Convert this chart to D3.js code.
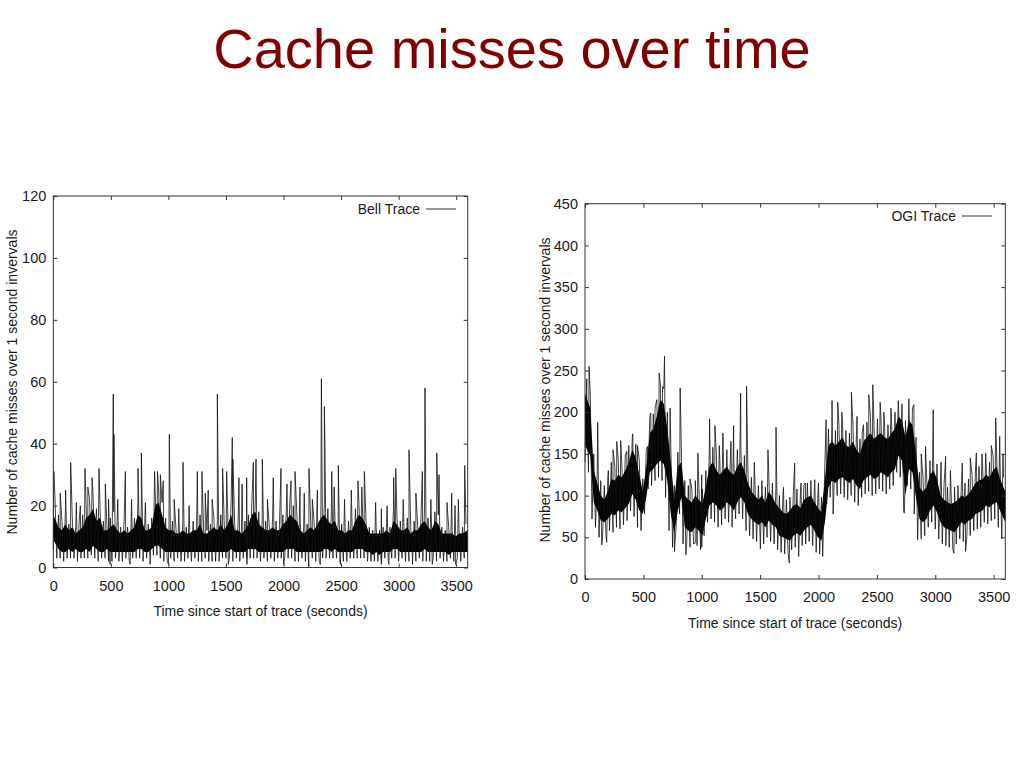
<!DOCTYPE html>
<html>
<head>
<meta charset="utf-8">
<script src="https://cdnjs.cloudflare.com/ajax/libs/d3/7.8.5/d3.min.js"></script>
<style>
  body { margin: 0; background: #fff; }
  svg text { font-family: "Liberation Sans", Arial, sans-serif; }
</style>
</head>
<body>
<svg id="chart" width="1023" height="767"></svg>
<script>
// values, in 30 s bins:
// floor/peak = lowest/highest 1 s sample in the bin, coreLo/coreHi = where most samples sit
const binSeconds = 30

const bellFloor = [
  6,3,3,2,3,3,3,2,3,3,  3,4,3,2,3,3,2,2,3,2,  2,3,2,3,3,3,2,3,3,4,
  4,3,2,2,3,2,3,2,2,3,  2,3,2,2,3,2,2,2,2,3,  3,3,2,3,2,3,3,3,3,3,
  2,3,2,3,2,3,3,3,3,3,  2,2,3,2,2,3,2,2,3,3,  3,3,3,2,2,2,3,3,3,3,
  3,2,2,2,2,2,3,2,3,3,  2,3,2,2,3,2,3,2,2,2,  3,2,3,2,2,3,2,3,2,3]
const bellCoreLo = [
  9,6,5,5,6,5,6,5,5,6,  5,7,6,5,5,6,5,5,5,5,  5,5,5,5,6,6,5,5,6,7,
  7,6,5,5,5,5,5,5,5,5,  5,5,5,5,5,5,5,5,5,5,  5,6,5,5,5,5,6,6,6,5,
  5,5,5,5,5,5,5,6,6,6,  5,5,5,5,5,5,5,5,6,6,  5,6,5,5,5,5,5,6,6,6,
  5,5,4,5,4,5,5,5,6,6,  5,5,5,5,5,5,5,6,5,5,  5,5,5,5,4,5,5,5,5,5]
const bellCoreHi = [
  17,13,12,14,12,13,11,12,13,16,  17,19,15,16,12,12,13,14,12,11,  12,11,12,13,17,16,12,12,13,20,
  21,17,13,12,12,11,11,12,11,11,  12,12,14,11,11,12,13,12,14,12,  14,17,12,12,11,12,14,17,18,14,
  13,12,12,13,12,12,14,15,17,16,  15,12,11,12,13,12,14,16,17,15,  14,15,12,12,11,12,12,15,17,16,
  14,11,11,11,11,11,12,11,15,14,  12,12,13,11,12,12,14,15,13,12,  15,14,11,11,11,11,10,11,11,12]
const bellPeak = [
  22,17,15,18,14,16,13,15,17,20,  22,24,19,21,15,14,16,18,15,13,  15,13,14,16,21,20,15,14,16,24,
  25,21,16,14,15,13,12,14,13,12,  15,14,17,13,12,14,16,15,17,14,  18,22,15,14,13,15,17,21,22,18,
  16,15,14,16,15,14,17,19,21,20,  18,15,13,14,16,15,17,20,21,19,  17,18,15,14,13,15,14,19,21,20,
  17,13,12,13,12,13,14,13,19,17,  15,14,16,13,15,14,17,19,16,15,  18,17,13,12,13,12,11,12,13,14]
// isolated samples sticking out of the band [seconds, misses]
const bellSpikes = [
  [5,31],[60,24],[107,25],[151,34],[200,21],[235,20],[275,32],[300,26],[337,29],[397,32],
  [452,27],[480,22],[521,56],[527,43],[560,22],[626,31],[680,22],[736,32],[765,37],[800,21],
  [880,31],[905,31],[930,30],[955,28],[1008,43],[1050,22],[1090,19],[1127,34],[1180,20],
  [1251,31],[1291,31],[1320,24],[1346,25],[1380,22],[1425,56],[1471,32],[1506,31],[1555,42],
  [1560,35],[1613,29],[1640,27],[1680,29],[1738,34],[1761,35],[1816,35],[1860,22],[1911,29],
  [1978,32],[2030,27],[2065,28],[2100,31],[2143,26],[2180,24],[2221,32],[2250,22],[2294,25],
  [2329,61],[2355,52],[2360,39],[2419,31],[2440,26],[2476,33],[2530,22],[2589,25],[2647,28],
  [2680,26],[2702,31],[2800,21],[2850,19],[2900,20],[2957,29],[2975,32],[3040,22],[3090,38],
  [3150,24],[3206,31],[3229,58],[3280,22],[3331,37],[3351,30],[3420,21],[3461,24],[3490,20],
  [3519,22],[3574,33],
  [493,1],[667,1],[841,1],[1000,1],[1520,1],[1682,1],[2001,1],[2219,0],[2320,1],[2494,1],
  [2850,1],[2915,1],[3120,1],[3292,1],[3495,1]]

const ogiFloor = [
  140,128,72,62,50,48,52,58,56,62,     60,65,70,82,75,62,58,78,108,112,
  118,122,118,98,58,38,62,78,42,40,    38,42,40,35,52,68,72,68,62,65,
  72,68,62,72,78,72,58,52,48,45,       48,42,50,45,42,35,32,30,30,35,
  38,35,40,42,45,40,32,30,48,90,       98,95,100,102,98,95,100,92,88,98,
  102,105,100,102,108,105,102,108,112,128, 122,80,112,108,78,52,48,52,62,68,
  60,48,42,40,38,36,42,48,45,50,       52,58,60,62,68,66,70,72,62,48]
const ogiCoreLo = [
  160,148,92,82,70,68,72,78,76,82,     80,85,90,102,95,82,78,98,128,132,
  138,142,138,118,78,55,82,98,62,58,   56,62,58,52,72,88,92,88,82,85,
  92,88,82,92,98,92,78,72,68,65,       68,62,70,65,62,52,50,48,46,52,
  55,52,58,62,65,58,50,46,68,110,      118,115,120,122,118,115,120,112,108,118,
  122,125,120,122,128,125,122,128,132,148, 142,100,132,128,98,72,68,72,82,88,
  80,68,62,60,58,56,62,68,65,70,       72,78,80,82,88,86,90,92,82,68]
const ogiCoreHi = [
  222,205,130,115,100,95,105,120,118,125,  122,130,140,155,145,125,105,135,175,180,
  195,215,210,180,140,95,135,140,100,95,    92,100,95,90,110,135,140,130,125,130,
  135,128,125,135,140,130,115,105,100,95,   100,92,105,98,90,85,80,78,82,88,
  90,85,95,98,100,92,85,80,120,160,         165,160,165,170,160,158,165,155,150,165,
  170,175,168,172,175,170,168,175,180,195,  190,170,190,185,150,110,105,110,125,130,
  120,100,95,92,90,92,95,100,98,102,        108,115,118,120,125,122,130,135,120,105]
const ogiPeak = [
  240,222,150,130,118,112,122,140,135,142,  140,148,160,170,162,142,120,155,195,198,
  215,235,228,200,160,112,152,158,118,112,  108,118,112,108,130,155,158,150,142,150,
  155,145,142,155,160,148,132,122,118,112,  118,110,122,115,108,100,98,95,98,105,
  108,102,112,115,118,110,102,98,140,180,   185,178,185,190,178,175,185,172,168,185,
  188,195,185,192,195,188,185,195,200,212,  210,190,210,205,170,128,122,128,142,148,
  138,118,112,110,108,110,112,118,115,120,  125,132,135,138,142,140,148,152,140,122]
const ogiSpikes = [
  [15,225],[35,255],[109,188],[200,130],[240,155],[272,165],[306,166],[358,153],[409,174],
  [450,160],[535,159],[563,199],[600,205],[635,247],[664,231],[681,267],[729,205],[815,229],
  [900,120],[967,151],[1000,125],[1067,192],[1113,184],[1150,160],[1181,175],[1250,165],
  [1273,184],[1333,223],[1384,231],[1450,140],[1567,155],[1636,182],[1700,110],[1796,139],
  [1850,115],[1888,115],[1968,119],[2000,115],[2065,191],[2116,214],[2165,212],[2200,200],
  [2282,224],[2330,195],[2374,175],[2431,221],[2465,233],[2528,212],[2560,200],[2620,205],
  [2683,214],[2774,216],[2817,209],[2880,150],[2917,159],[2983,203],[3050,140],[3089,147],
  [3130,130],[3232,139],[3300,145],[3352,151],[3400,150],[3432,151],[3480,160],[3518,193],
  [3552,171],[3580,150],
  [143,41],[186,44],[766,33],[864,29],[944,43],[1000,38],[1502,36],[1750,19],[1830,27],
  [2036,27],[2125,78],[2737,79],[2849,47],[3160,31],[3260,33]]

const xTicks = [0, 500, 1000, 1500, 2000, 2500, 3000, 3500]
const bellYTicks = [0, 20, 40, 60, 80, 100, 120]
const ogiYTicks = [0, 50, 100, 150, 200, 250, 300, 350, 400, 450]

const svg = d3.select("#chart")

svg.append("text")
  .attr("x", 512).attr("y", 68)
  .attr("text-anchor", "middle")
  .style("font-size", "56px")
  .style("fill", "#7f0000")
  .text("Cache misses over time")

function buildSeries(floor, peak, spikes) {
  const pts = []
  floor.forEach(function (v, i) {
    pts.push([i * binSeconds, v])
    pts.push([i * binSeconds + binSeconds / 2, peak[i]])
  })
  spikes.forEach(function (s) { pts.push(s) })
  return pts.sort(function (a, b) { return a[0] - b[0] })
}

function drawPanel(conf) {
  const x = d3.scaleLinear().domain([0, 3600]).range([conf.left, conf.right])
  const y = d3.scaleLinear().domain([0, conf.yMax]).range([conf.bottom, conf.top])
  const g = svg.append("g")
  const last = conf.coreLo.length - 1

  const band = d3.area()
    .x(function (d, i) {
      if (i === 0) return x(0)
      if (i === last) return x(3600)
      return x(i * binSeconds + binSeconds / 2)
    })
    .y0(function (d, i) { return y(conf.coreLo[i]) })
    .y1(function (d, i) { return y(conf.coreHi[i]) })

  g.append("path")
    .datum(conf.coreLo)
    .attr("d", band)
    .attr("fill", "#000")

  const line = d3.line()
    .x(function (d) { return x(d[0]) })
    .y(function (d) { return y(d[1]) })

  g.append("path")
    .datum(buildSeries(conf.floor, conf.peak, conf.spikes))
    .attr("d", line)
    .attr("fill", "none")
    .attr("stroke", "#111")
    .attr("stroke-width", 0.8)

  const styleAxis = function (sel, showText) {
    sel.select(".domain").remove()
    sel.selectAll("line").attr("stroke", "#333")
    sel.selectAll("text")
      .style("font-size", "14.5px")
      .style("fill", "#1a1a1a")
      .style("display", showText ? null : "none")
  }
  const fmt = d3.format("d")

  g.append("g")
    .attr("transform", "translate(0," + conf.bottom + ")")
    .call(d3.axisBottom(x).tickValues(xTicks).tickFormat(fmt).tickSize(-4).tickPadding(13))
    .call(styleAxis, true)
  g.append("g")
    .attr("transform", "translate(0," + conf.top + ")")
    .call(d3.axisTop(x).tickValues(xTicks).tickSize(-4))
    .call(styleAxis, false)
  g.append("g")
    .attr("transform", "translate(" + conf.left + ",0)")
    .call(d3.axisLeft(y).tickValues(conf.yTicks).tickFormat(fmt).tickSize(-4).tickPadding(7))
    .call(styleAxis, true)
  g.append("g")
    .attr("transform", "translate(" + conf.right + ",0)")
    .call(d3.axisRight(y).tickValues(conf.yTicks).tickSize(-4))
    .call(styleAxis, false)

  // gnuplot border
  g.append("rect")
    .attr("x", conf.left).attr("y", conf.top)
    .attr("width", conf.right - conf.left)
    .attr("height", conf.bottom - conf.top)
    .attr("fill", "none")
    .attr("stroke", "#333")
    .attr("stroke-width", 1)

  // key
  g.append("text")
    .attr("x", conf.keyX).attr("y", conf.keyY)
    .attr("dy", "0.35em")
    .attr("text-anchor", "end")
    .style("font-size", "14px")
    .style("fill", "#1a1a1a")
    .text(conf.name)
  g.append("line")
    .attr("x1", conf.keyX + 6).attr("x2", conf.keyX + 36)
    .attr("y1", conf.keyY).attr("y2", conf.keyY)
    .attr("stroke", "#333")

  g.append("text")
    .attr("x", (conf.left + conf.right) / 2).attr("y", conf.xLabelY)
    .attr("dy", "0.35em")
    .attr("text-anchor", "middle")
    .style("font-size", "14px")
    .style("fill", "#1a1a1a")
    .text("Time since start of trace (seconds)")

  g.append("text")
    .attr("transform", "translate(" + conf.yLabelX + "," + conf.yLabelY + ") rotate(-90)")
    .attr("dy", "0.35em")
    .attr("text-anchor", "middle")
    .style("font-size", "14px")
    .style("fill", "#1a1a1a")
    .text("Number of cache misses over 1 second invervals")
}

drawPanel({
  name: "Bell Trace",
  floor: bellFloor, coreLo: bellCoreLo, coreHi: bellCoreHi, peak: bellPeak, spikes: bellSpikes,
  left: 53.3, right: 467.7, top: 196, bottom: 567.5,
  yMax: 120, yTicks: bellYTicks,
  keyX: 420, keyY: 209,
  xLabelY: 611,
  yLabelX: 12, yLabelY: 382
})

drawPanel({
  name: "OGI Trace",
  floor: ogiFloor, coreLo: ogiCoreLo, coreHi: ogiCoreHi, peak: ogiPeak, spikes: ogiSpikes,
  left: 585, right: 1005.3, top: 203.7, bottom: 579,
  yMax: 450, yTicks: ogiYTicks,
  keyX: 956, keyY: 216,
  xLabelY: 623,
  yLabelX: 545, yLabelY: 390
})
</script>
</body>
</html>
